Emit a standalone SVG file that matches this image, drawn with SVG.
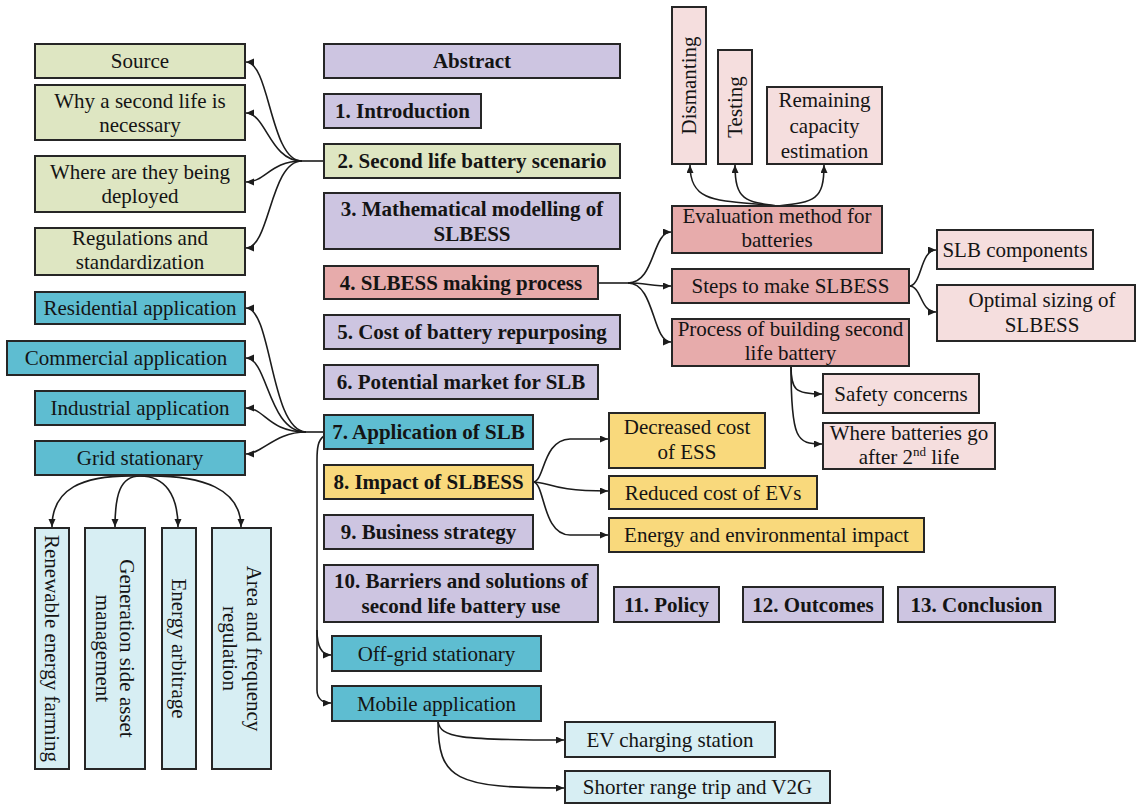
<svg xmlns="http://www.w3.org/2000/svg" width="1140" height="804" viewBox="0 0 1140 804">
  <style>
    .box { stroke: #262626; stroke-width: 2; }
    .pur { fill: #cdc5e1; }
    .grn { fill: #dee6c2; }
    .sal { fill: #e7abab; }
    .pnk { fill: #f5dede; }
    .blu { fill: #5ebdd1; }
    .lbl { fill: #d7eef3; }
    .yel { fill: #f9d97c; }
    .t text { font-size: 21px; fill: #141414; text-anchor: middle; }
    .b { font-weight: bold; }
    .link { fill: none; stroke: #1c1c1c; stroke-width: 1.6; }
    .arr { marker-end: url(#ah); }
  </style>
  <defs>
    <marker id="ah" markerUnits="userSpaceOnUse" markerWidth="9" markerHeight="8" refX="8" refY="3.5" orient="auto">
      <path d="M0,0 L8,3.5 L0,7 z" fill="#1c1c1c"/>
    </marker>
  </defs>
  <rect width="1140" height="804" fill="#ffffff"/>

  <!-- connectors -->
  <g id="connectors">
    <!-- 2. Second life battery scenario -->
    <path class="link" d="M324,161 L302,161"/>
    <path class="link arr" d="M302,161 C270,161 270,62 246,62"/>
    <path class="link arr" d="M302,161 C270,161 266,113 246,113"/>
    <path class="link arr" d="M302,161 C270,161 266,182 246,182"/>
    <path class="link arr" d="M302,161 C270,161 270,248 246,248"/>
    <!-- 4. SLBESS making process -->
    <path class="link" d="M598,283 L628,283"/>
    <path class="link arr" d="M628,283 C655,283 652,232 671,232"/>
    <path class="link arr" d="M628,283 C645,283 652,286 671,286"/>
    <path class="link arr" d="M628,283 C655,283 652,342 671,342"/>
    <!-- evaluation method branches -->
    <path class="link arr" d="M778,206 C720,200 690,205 690,165"/>
    <path class="link arr" d="M778,206 C745,202 735,200 735,165"/>
    <path class="link arr" d="M778,206 C815,202 824,200 824,165"/>
    <!-- steps branches -->
    <path class="link arr" d="M909,286 C922,286 920,250 936,250"/>
    <path class="link arr" d="M909,286 C922,286 920,312 936,312"/>
    <!-- process branches -->
    <path class="link arr" d="M791,366 C791,390 795,394 822,394"/>
    <path class="link arr" d="M791,366 C791,440 797,444 822,444"/>
    <!-- 7. Application of SLB -->
    <path class="link" d="M324,432 L306,432"/>
    <path class="link arr" d="M306,432 C270,430 272,308 246,308"/>
    <path class="link arr" d="M306,432 C268,432 268,358 246,358"/>
    <path class="link arr" d="M306,432 C268,432 265,408 246,408"/>
    <path class="link arr" d="M306,432 C275,432 262,454 246,454"/>
    <path class="link arr" d="M324,436 C318,440 317,448 317,460 L317,690 C317,698 322,703 331,703"/>
    <path class="link arr" d="M317,630 C317,648 322,655 331,655"/>
    <!-- grid stationary branches -->
    <path class="link arr" d="M140,476 C80,474 52,490 52,527"/>
    <path class="link arr" d="M140,476 C120,476 115,495 115,527"/>
    <path class="link arr" d="M140,476 C165,476 178,495 178,527"/>
    <path class="link arr" d="M140,476 C205,474 241,490 241,527"/>
    <!-- 8. Impact of SLBESS -->
    <path class="link arr" d="M533,482 C545,482 542,440 570,439 L608,439"/>
    <path class="link arr" d="M533,482 C550,482 550,491 608,491"/>
    <path class="link arr" d="M533,482 C545,482 542,535 570,535 L608,535"/>
    <!-- mobile application -->
    <path class="link arr" d="M438,721 C440,738 460,740 564,740"/>
    <path class="link arr" d="M438,721 C438,780 455,788 564,788"/>
  </g>

  <g class="t" font-family="'Liberation Serif', 'DejaVu Serif', serif">
  <!-- main sections -->
  <g id="abstract"><rect class="box pur" x="324" y="44" width="296" height="34"/><text class="b" x="472" y="68">Abstract</text></g>
  <g id="s1"><rect class="box pur" x="324" y="94" width="157" height="34"/><text class="b" x="402.5" y="118">1. Introduction</text></g>
  <g id="s2"><rect class="box grn" x="324" y="144" width="296" height="34"/><text class="b" x="472" y="168">2. Second life battery scenario</text></g>
  <g id="s3"><rect class="box pur" x="324" y="193" width="296" height="56"/><text class="b" x="472" y="216">3. Mathematical modelling of</text><text class="b" x="472" y="241">SLBESS</text></g>
  <g id="s4"><rect class="box sal" x="324" y="266" width="274" height="33"/><text class="b" x="461" y="289.5">4. SLBESS making process</text></g>
  <g id="s5"><rect class="box pur" x="324" y="315" width="296" height="34"/><text class="b" x="472" y="339">5. Cost of battery repurposing</text></g>
  <g id="s6"><rect class="box pur" x="324" y="365" width="274" height="34"/><text class="b" x="461" y="389">6. Potential market for SLB</text></g>
  <g id="s7"><rect class="box blu" x="324" y="415" width="209" height="34"/><text class="b" x="428.5" y="439">7. Application of SLB</text></g>
  <g id="s8"><rect class="box yel" x="324" y="465" width="209" height="34"/><text class="b" x="428.5" y="489">8. Impact of SLBESS</text></g>
  <g id="s9"><rect class="box pur" x="324" y="515" width="209" height="34"/><text class="b" x="428.5" y="539">9. Business strategy</text></g>
  <g id="s10"><rect class="box pur" x="324" y="565" width="274" height="57"/><text class="b" x="461" y="588">10. Barriers and solutions of</text><text class="b" x="461" y="613">second life battery use</text></g>
  <g id="s11"><rect class="box pur" x="614" y="587" width="105" height="35"/><text class="b" x="666.5" y="611.5">11. Policy</text></g>
  <g id="s12"><rect class="box pur" x="743" y="587" width="140" height="35"/><text class="b" x="813" y="611.5">12. Outcomes</text></g>
  <g id="s13"><rect class="box pur" x="898" y="587" width="157" height="35"/><text class="b" x="976.5" y="611.5">13. Conclusion</text></g>

  <!-- second life battery scenario topics -->
  <g id="source"><rect class="box grn" x="35" y="44" width="210" height="34"/><text x="140" y="68">Source</text></g>
  <g id="why"><rect class="box grn" x="35" y="85" width="210" height="55"/><text x="140" y="108">Why a second life is</text><text x="140" y="132">necessary</text></g>
  <g id="where"><rect class="box grn" x="35" y="156" width="210" height="56"/><text x="140" y="179">Where are they being</text><text x="140" y="203">deployed</text></g>
  <g id="regs"><rect class="box grn" x="35" y="228" width="210" height="47"/><text x="140" y="245">Regulations and</text><text x="140" y="269">standardization</text></g>

  <!-- application topics -->
  <g id="residential"><rect class="box blu" x="35" y="292" width="210" height="32"/><text x="140" y="315">Residential application</text></g>
  <g id="commercial"><rect class="box blu" x="7" y="341" width="238" height="34"/><text x="126" y="365">Commercial application</text></g>
  <g id="industrial"><rect class="box blu" x="35" y="391" width="210" height="34"/><text x="140" y="415">Industrial application</text></g>
  <g id="grid"><rect class="box blu" x="35" y="441" width="210" height="34"/><text x="140" y="465">Grid stationary</text></g>
  <g id="renewable"><rect class="box lbl" x="35" y="528" width="34" height="241"/><text transform="rotate(90 52 648.5)" x="52" y="655.5">Renewable energy farming</text></g>
  <g id="generation"><rect class="box lbl" x="85" y="528" width="60" height="241"/><text transform="rotate(90 115 648.5)" x="115" y="643.5">Generation side asset</text><text transform="rotate(90 115 648.5)" x="115" y="667.5">management</text></g>
  <g id="arbitrage"><rect class="box lbl" x="162" y="528" width="34" height="241"/><text transform="rotate(90 179 648.5)" x="179" y="655.5">Energy arbitrage</text></g>
  <g id="area"><rect class="box lbl" x="212" y="528" width="59" height="241"/><text transform="rotate(90 241.5 648.5)" x="241.5" y="643.5">Area and frequency</text><text transform="rotate(90 241.5 648.5)" x="241.5" y="667.5">regulation</text></g>
  <g id="offgrid"><rect class="box blu" x="332" y="636" width="209" height="35"/><text x="436.5" y="660.5">Off-grid stationary</text></g>
  <g id="mobile"><rect class="box blu" x="332" y="686" width="209" height="35"/><text x="436.5" y="710.5">Mobile application</text></g>
  <g id="ev"><rect class="box lbl" x="565" y="722" width="210" height="35"/><text x="670" y="746.5">EV charging station</text></g>
  <g id="shorter"><rect class="box lbl" x="565" y="771" width="265" height="32"/><text x="697.5" y="794">Shorter range trip and V2G</text></g>

  <!-- making process topics -->
  <g id="dismanting"><rect class="box pnk" x="672" y="7" width="34" height="157"/><text transform="rotate(-90 689 85.5)" x="689" y="92.5">Dismanting</text></g>
  <g id="testing"><rect class="box pnk" x="718" y="50" width="34" height="114"/><text transform="rotate(-90 735 107)" x="735" y="114">Testing</text></g>
  <g id="remaining"><rect class="box pnk" x="767" y="87" width="115" height="77"/><text x="824.5" y="107">Remaining</text><text x="824.5" y="133">capacity</text><text x="824.5" y="158">estimation</text></g>
  <g id="evaluation"><rect class="box sal" x="672" y="206" width="210" height="47"/><text x="777" y="223">Evaluation method for</text><text x="777" y="247">batteries</text></g>
  <g id="steps"><rect class="box sal" x="672" y="269" width="237" height="34"/><text x="790.5" y="293">Steps to make SLBESS</text></g>
  <g id="process"><rect class="box sal" x="672" y="319" width="237" height="47"/><text x="790.5" y="336">Process of building second</text><text x="790.5" y="360">life battery</text></g>
  <g id="slbcomp"><rect class="box pnk" x="937" y="230" width="156" height="39"/><text x="1015" y="256.5">SLB components</text></g>
  <g id="optimal"><rect class="box pnk" x="937" y="285" width="198" height="56"/><text x="1042" y="307">Optimal sizing of</text><text x="1042" y="332">SLBESS</text></g>
  <g id="safety"><rect class="box pnk" x="823" y="374" width="156" height="39"/><text x="901" y="400.5">Safety concerns</text></g>
  <g id="wherebat"><rect class="box pnk" x="823" y="423" width="172" height="46"/><text x="909" y="440">Where batteries go</text><text x="909" y="464">after 2<tspan font-size="13" dy="-8">nd</tspan><tspan dy="8"> life</tspan></text></g>

  <!-- impact topics -->
  <g id="decreased"><rect class="box yel" x="609" y="413" width="156" height="55"/><text x="687" y="434">Decreased cost</text><text x="687" y="459">of ESS</text></g>
  <g id="reduced"><rect class="box yel" x="609" y="476" width="208" height="33"/><text x="713" y="499.5">Reduced cost of EVs</text></g>
  <g id="energy"><rect class="box yel" x="609" y="518" width="315" height="34"/><text x="766.5" y="542">Energy and environmental impact</text></g>
  </g>
</svg>
